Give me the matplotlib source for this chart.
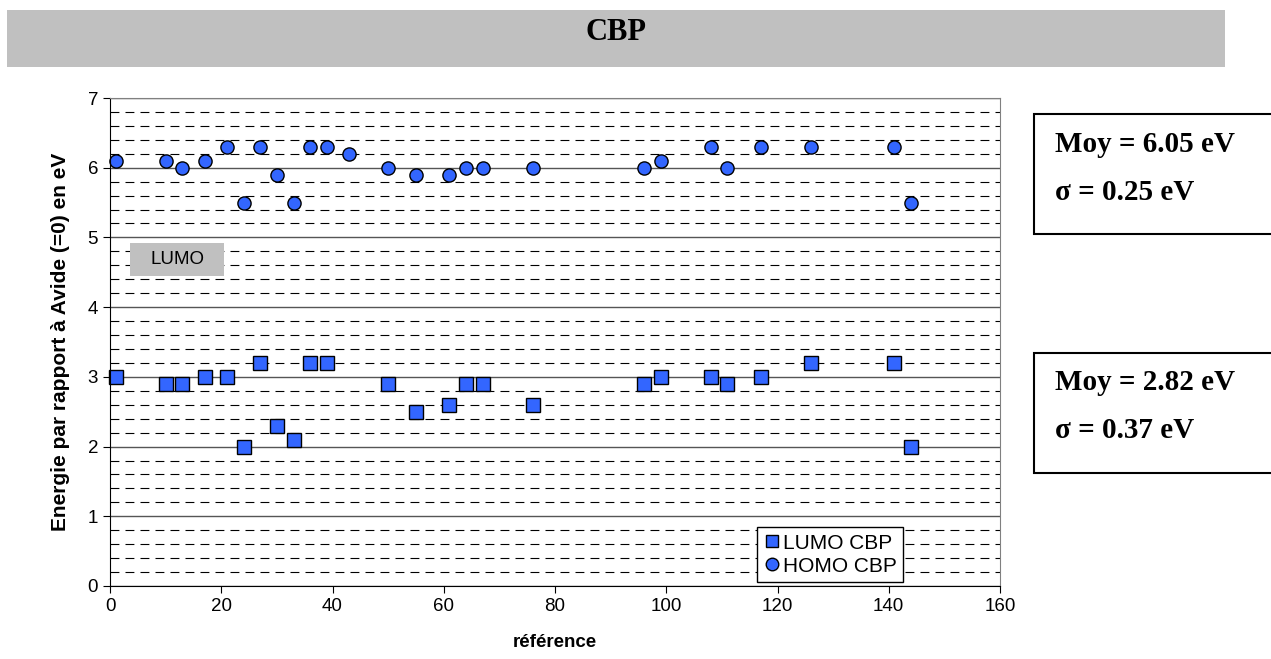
"""
CBP HOMO / LUMO scatter
"""
import matplotlib
matplotlib.use("Agg")
import matplotlib.pyplot as plt
from matplotlib.patches import Rectangle
from matplotlib.ticker import MultipleLocator

# data
lumo_ref = [1, 10, 13, 17, 21, 24, 27, 30, 33, 36, 39, 50, 55, 61, 64, 67, 76,
            96, 99, 108, 111, 117, 126, 141, 144]
lumo_val = [3.0, 2.9, 2.9, 3.0, 3.0, 2.0, 3.2, 2.3, 2.1, 3.2, 3.2, 2.9, 2.5, 2.6,
            2.9, 2.9, 2.6, 2.9, 3.0, 3.0, 2.9, 3.0, 3.2, 3.2, 2.0]
homo_ref = [1, 10, 13, 17, 21, 24, 27, 30, 33, 36, 39, 43, 50, 55, 61, 64, 67, 76,
            96, 99, 108, 111, 117, 126, 141, 144]
homo_val = [6.1, 6.1, 6.0, 6.1, 6.3, 5.5, 6.3, 5.9, 5.5, 6.3, 6.3, 6.2, 6.0, 5.9,
            5.9, 6.0, 6.0, 6.0, 6.0, 6.1, 6.3, 6.0, 6.3, 6.3, 6.3, 5.5]
homo_stats = ["Moy = 6.05 eV", "σ = 0.25 eV"]
lumo_stats = ["Moy = 2.82 eV", "σ = 0.37 eV"]

W, H = 1271, 659
blue = "#3366ff"

plt.rcParams["font.family"] = ["Liberation Sans", "DejaVu Sans"]

fig = plt.figure(figsize=(W / 100, H / 100), dpi=100)

# title bar
fig.patches.append(Rectangle((7 / W, 1 - 67 / H), (1225 - 7) / W, 57 / H,
                             transform=fig.transFigure, facecolor="#c0c0c0",
                             edgecolor="none"))
fig.text(616 / W, 1 - 32 / H, "CBP", ha="center", va="center",
         family="Liberation Serif", weight="bold", fontsize=22)

ax = fig.add_axes([110 / W, 1 - 586 / H, 890 / W, 488 / H])
ax.set_xlim(0, 160)
ax.set_ylim(0, 7)
ax.xaxis.set_major_locator(MultipleLocator(20))
ax.yaxis.set_major_locator(MultipleLocator(1))
ax.yaxis.set_minor_locator(MultipleLocator(0.2))
ax.grid(True, which="major", axis="y", color="#555555", linewidth=1)
ax.grid(True, which="minor", axis="y", color="black", linewidth=0.8,
        linestyle=(0, (8, 5.5)))
ax.set_axisbelow(True)
ax.tick_params(which="minor", length=0)
ax.tick_params(which="major", length=5, direction="out", labelsize=13.5)
for side in ["top", "right"]:
    ax.spines[side].set_color("#808080")
for side in ["left", "bottom"]:
    ax.spines[side].set_color("black")

ax.plot(lumo_ref, lumo_val, "s", color=blue, markeredgecolor="black",
        markersize=9.5, markeredgewidth=1, label="LUMO CBP", clip_on=False)
ax.plot(homo_ref, homo_val, "o", color=blue, markeredgecolor="black",
        markersize=9.5, markeredgewidth=1, label="HOMO CBP", clip_on=False)

ax.set_xlabel("référence", fontsize=13.5, weight="bold", labelpad=14)
ax.set_ylabel("Energie par rapport à Avide (=0) en eV", fontsize=15,
              weight="bold", labelpad=13)

leg = ax.legend(loc="lower right", bbox_to_anchor=(903 / W, 1 - 582 / H),
                bbox_transform=fig.transFigure, fontsize=15, frameon=True,
                fancybox=False, edgecolor="black", handletextpad=0.05,
                handlelength=0.9, borderpad=0.3, labelspacing=0.2,
                borderaxespad=0, markerscale=0.95, framealpha=1)
leg.get_frame().set_linewidth(1)

# LUMO label box
fig.patches.append(Rectangle((130 / W, 1 - 276 / H), 94 / W, 33 / H,
                             transform=fig.transFigure, facecolor="#c0c0c0",
                             edgecolor="none", zorder=5))
fig.text(177 / W, 1 - 259 / H, "LUMO", ha="center", va="center", fontsize=13.5,
         zorder=6)

# stats boxes
for top, bot, lines in [(114, 234, homo_stats), (353, 473, lumo_stats)]:
    fig.patches.append(Rectangle((1034 / W, 1 - bot / H), 260 / W, (bot - top) / H,
                                 transform=fig.transFigure, facecolor="white",
                                 edgecolor="black", linewidth=1.5))
    fig.text(1055 / W, 1 - (top + 30) / H, lines[0], ha="left", va="center",
             family="Liberation Serif", weight="bold", fontsize=21)
    fig.text(1055 / W, 1 - (top + 78) / H, lines[1], ha="left", va="center",
             family="Liberation Serif", weight="bold", fontsize=21)

fig.savefig("out.png", dpi=100)
